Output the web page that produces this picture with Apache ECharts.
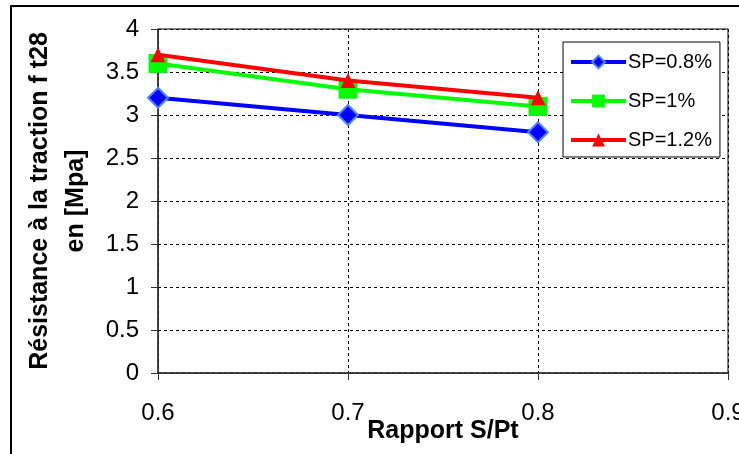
<!DOCTYPE html>
<html>
<head>
<meta charset="utf-8">
<script src="https://cdn.jsdelivr.net/npm/echarts@6/dist/echarts.min.js"></script>
<style>
html,body{margin:0;padding:0;background:#fff;}
#chart{width:739px;height:454px;}
</style>
</head>
<body>
<div id="chart"></div>
<script>
const ratios = [0.6, 0.7, 0.8];
const sp08 = [3.2, 3.0, 2.8];
const sp1 = [3.6, 3.3, 3.1];
const sp12 = [3.7, 3.4, 3.2];
const seriesNames = ['SP=0.8%', 'SP=1%', 'SP=1.2%'];
const xTitle = 'Rapport S/Pt';
const yTitle = 'Résistance à la traction f t28\nen [Mpa]';

const font = '"Liberation Sans", Arial, sans-serif';
const chart = echarts.init(document.getElementById('chart'), null, {renderer: 'canvas'});

function pairs(vals) { return ratios.map((x, i) => [x, vals[i]]); }

chart.setOption({
  animation: false,
  backgroundColor: '#fff',
  graphic: [{
    type: 'rect', silent: true, z: 100,
    shape: {x: 11, y: 6, width: 760, height: 470},
    style: {fill: 'none', stroke: '#000', lineWidth: 2}
  }],
  grid: {left: 158, right: 11, top: 29, bottom: 81, show: true, borderColor: '#000', borderWidth: 1,
         backgroundColor: 'transparent', containLabel: false, outerBoundsMode: 'none'},
  legend: {
    orient: 'vertical', left: 563, top: 42,
    padding: [10, 8, 7, 6], itemGap: 19, itemWidth: 55, itemHeight: 16,
    backgroundColor: '#fff', borderColor: '#000', borderWidth: 1,
    lineStyle: {width: 4},
    textStyle: {fontFamily: font, fontSize: 20, color: '#000', padding: [0,0,0,-3], height: 20, lineHeight: 20},
    data: seriesNames
  },
  xAxis: {
    type: 'value', min: 0.6, max: 0.9, interval: 0.1,
    name: xTitle, nameLocation: 'middle', nameGap: 46, nameMoveOverlap: false,
    nameTextStyle: {fontFamily: font, fontSize: 25, fontWeight: 'bold', color: '#000', verticalAlign: 'top'},
    axisLine: {onZero: false, lineStyle: {color: '#333', width: 1.5}},
    axisTick: {show: true, inside: false, length: 7, lineStyle: {color: '#333'}},
    axisLabel: {fontFamily: font, fontSize: 24, color: '#000', margin: 28, formatter: v => v.toFixed(1), showMaxLabel: true},
    splitLine: {show: true, lineStyle: {color: '#000', type: [3, 3], width: 1}}
  },
  yAxis: {
    type: 'value', min: 0, max: 4, interval: 0.5,
    name: yTitle, nameLocation: 'middle', nameRotate: 90, nameGap: 64,
    nameTextStyle: {fontFamily: font, fontSize: 25, fontWeight: 'bold', color: '#000', lineHeight: 36, align: 'center'},
    axisLine: {show: true, lineStyle: {color: '#333', width: 1.5}},
    axisTick: {show: true, inside: false, length: 7, lineStyle: {color: '#333'}},
    axisLabel: {fontFamily: font, fontSize: 24, color: '#000', margin: 19},
    splitLine: {show: true, lineStyle: {color: '#000', type: [3, 3], width: 1}}
  },
  series: [
    {name: seriesNames[0], type: 'line', data: pairs(sp08), symbol: 'diamond', symbolSize: 20,
     lineStyle: {color: '#0000ff', width: 4}, itemStyle: {color: '#0000ff', borderColor: '#4d88ff', borderWidth: 2}, z: 2},
    {name: seriesNames[1], type: 'line', data: pairs(sp1), symbol: 'rect', symbolSize: 19,
     lineStyle: {color: '#00ff00', width: 4}, itemStyle: {color: '#00ff00', borderColor: '#00ff00', borderWidth: 0}, z: 3},
    {name: seriesNames[2], type: 'line', data: pairs(sp12), symbol: 'triangle', symbolSize: 15,
     lineStyle: {color: '#ff0000', width: 4}, itemStyle: {color: '#ff0000', borderWidth: 0}, z: 4}
  ]
});
</script>
</body>
</html>
